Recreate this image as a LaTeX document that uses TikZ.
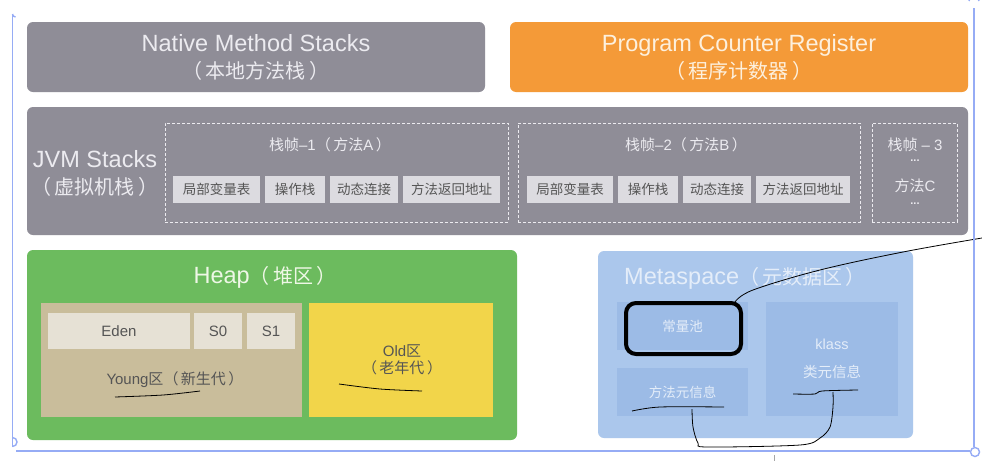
\documentclass[tikz,border=0pt]{standalone}
\usepackage{fontspec}
\setmainfont{Liberation Sans}
\newfontfamily\cjk{Noto Sans CJK SC}
\newcommand\zh[1]{{\cjk #1}}
\newcommand\zhb[1]{{\cjk\fontsize{20}{27}\selectfont #1}}
\definecolor{graybox}{HTML}{8F8D97}
\definecolor{grayline}{HTML}{ECEBF0}
\definecolor{orangebox}{HTML}{F49A38}
\definecolor{orangetxt}{HTML}{FDF0DD}
\definecolor{cellgray}{HTML}{DCDBE0}
\definecolor{celltxt}{HTML}{555555}
\definecolor{heapgreen}{HTML}{6CBB5E}
\definecolor{heaptxt}{HTML}{EEF7E6}
\definecolor{youngtan}{HTML}{C9BD9B}
\definecolor{edencell}{HTML}{E6E1D5}
\definecolor{oldyellow}{HTML}{F2D54A}
\definecolor{metablue}{HTML}{ABC7EC}
\definecolor{metacell}{HTML}{9CBBE6}
\definecolor{metatxt}{HTML}{E4EDF9}
\definecolor{selblue}{RGB}{150,172,245}
\tikzset{
  blk/.style={rectangle, rounded corners=6pt, inner sep=0pt, align=center},
  cell/.style={rectangle, inner sep=0pt, align=center},
  frame/.style={rectangle, draw=grayline, dashed, dash pattern=on 3pt off 2pt, line width=0.9pt, inner sep=0pt},
  hand/.style={draw=black, line width=0.8pt},
  sel/.style={draw=selblue, line width=1.4pt},
  big/.style={font=\fontsize{23.5}{27}\selectfont},
  mid/.style={font=\fontsize{15}{17}\selectfont},
  small/.style={font=\cjk\fontsize{13.5}{16}\selectfont},
  dots/.style={text=grayline, font=\bfseries\fontsize{11}{12}\selectfont},
}
\begin{document}
\begin{tikzpicture}[x=1pt,y=-1pt]
\useasboundingbox (0,0) rectangle (982,461);
\fill[white] (0,0) rectangle (982,461);

% top boxes
\node[blk, fill=graybox, text=grayline, big, minimum width=458pt, minimum height=70pt] (nms) at (256,57) {Native Method Stacks\\\zhb{（\,本地方法栈\,）}};
\node[blk, fill=orangebox, text=orangetxt, big, minimum width=458pt, minimum height=70pt] (pcr) at (739,57) {Program Counter Register\\\zhb{（\,程序计数器\,）}};

% JVM stacks
\node[blk, fill=graybox, minimum width=941pt, minimum height=128pt] (jvm) at (497.5,171) {};
\node[text=grayline, big, align=center, inner sep=0pt] (jvml) at (95,173) {JVM Stacks\\\zhb{（\,虚拟机栈\,）}};

\node[frame, minimum width=343pt, minimum height=99pt] (f1) at (336.5,172.5) {};
\node[frame, minimum width=342pt, minimum height=99pt] (f2) at (689,172.5) {};
\node[frame, minimum width=85pt, minimum height=99pt] (f3) at (914.5,172.5) {};

\node[text=grayline, mid] (t1) at (330,145) {\zh{栈帧}–1\zh{（\,方法}A\zh{\,）}};
\node[text=grayline, mid] (t2) at (686,145) {\zh{栈帧}–2\zh{（\,方法}B\zh{\,）}};
\node[text=grayline, mid] (t3) at (915,145) {\zh{栈帧} – 3};
\node[dots] (d1) at (915,161) {...};
\node[text=grayline, mid] (t3b) at (915,186) {\zh{方法}C};
\node[dots] (d2) at (915,204) {...};

\foreach \n/\cx/\w/\t in {a1/216.5/87/局部变量表, a2/295/60/操作栈, a3/364/68/动态连接, a4/451.5/97/方法返回地址,
                          b1/570/86/局部变量表, b2/648/60/操作栈, b3/717/68/动态连接, b4/803/94/方法返回地址}
  \node[cell, fill=cellgray, text=celltxt, small, minimum width=\w pt, minimum height=27pt] (\n) at (\cx,189.5) {\t};

% Heap
\node[blk, fill=heapgreen, minimum width=490pt, minimum height=190pt] (heap) at (272,345) {};
\node[text=heaptxt, big] (heapt) at (265,277) {Heap\zhb{（\,堆区\,）}};
\node[cell, fill=youngtan, minimum width=261pt, minimum height=114pt] (young) at (171.5,360) {};
\node[cell, fill=edencell, text=celltxt, mid, minimum width=142pt, minimum height=36pt] (eden) at (119,331) {Eden};
\node[cell, fill=edencell, text=celltxt, mid, minimum width=48pt, minimum height=36pt] (s0) at (218,331) {S0};
\node[cell, fill=edencell, text=celltxt, mid, minimum width=48pt, minimum height=36pt] (s1) at (271,331) {S1};
\node[text=celltxt, mid] (youngt) at (175,380) {Young\zh{区（\,新生代\,）}};
\node[cell, fill=oldyellow, minimum width=184pt, minimum height=114pt] (old) at (401,360) {};
\node[text=celltxt, mid, align=center] (oldt) at (402,360) {Old\zh{区}\\\zh{（\,老年代\,）}};

% Metaspace
\node[blk, fill=metablue, minimum width=315pt, minimum height=187pt] (meta) at (755.5,344.5) {};
\node[text=metatxt, big] (metat) at (745,278) {Metaspace\zhb{（\,元数据区\,）}};
\node[cell, fill=metacell, text=metatxt, small, minimum width=131pt, minimum height=48pt] (cpool) at (682.5,326) {常量池};
\node[cell, fill=metacell, text=metatxt, small, minimum width=131pt, minimum height=48pt] (minfo) at (682.5,392) {方法元信息};
\node[cell, fill=metacell, text=metatxt, font=\fontsize{14.5}{28}\selectfont, minimum width=132pt, minimum height=114pt] (klass) at (832,359) {klass\\\zh{类元信息}};

% hand drawn marks
\node[rectangle, draw=black, line width=4pt, rounded corners=10pt, minimum width=115pt, minimum height=51pt, inner sep=0pt] (thick) at (683.5,328.5) {};
\coordinate (cs) at (735,302);
\coordinate (ce) at (982,238);
\draw[hand] plot[smooth, tension=0.6] coordinates {(cs) (753,290) (820,270) (903,252) (ce)};
\draw[hand] plot[smooth, tension=0.5] coordinates {(115,397) (163,395) (200,391)};
\draw[hand] plot[smooth, tension=0.5] coordinates {(339,384) (380,389) (422,391)};
\draw[hand] plot[smooth, tension=0.5] coordinates {(632,411) (660,407) (724,407)};
\draw[hand] plot[smooth, tension=0.5] coordinates {(692,409) (693,427) (698,443) (707,447) (800,445) (820,438) (830,427) (833,407) (833,392)};
\draw[hand] plot[smooth, tension=0.5] coordinates {(793,394) (815,394) (822,391) (858,390)};

% selection frame
\draw[sel] (12.5,14) -- (12.5,447);
\draw[sel] (12.5,14) arc[start angle=180, end angle=90, radius=3];
\draw[sel] (16,451) -- (970,451);
\draw[sel] (974,8) -- (974,447);
\draw[sel] (975,452) circle[radius=4.5];
\draw[sel] (12.5,446.5) arc[start angle=90, end angle=-90, radius=4.5];
\draw[sel] (969,1) arc[start angle=180, end angle=360, radius=5];
\draw[draw=gray!70, line width=1pt] (774,455) -- (774,461);
\end{tikzpicture}
\end{document}
